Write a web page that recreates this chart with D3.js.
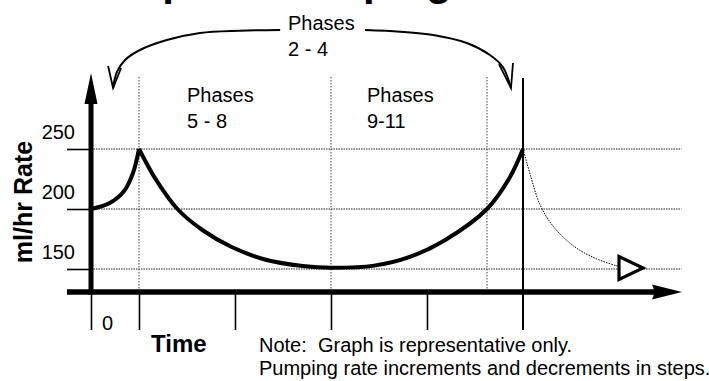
<!DOCTYPE html>
<html><head><meta charset="utf-8">
<script src="https://cdn.jsdelivr.net/npm/d3@7"></script>
<style>body{margin:0;background:#fff}svg{display:block}</style>
</head><body>
<svg id="c" width="709" height="381"></svg>
<script>
// ---- data ----
const titleText = "Adaptive Pumping";
const yLabel = "ml/hr Rate";
const xLabel = "Time";
const yTickValues = [150, 200, 250];
const yTickLabels = ["150", "200", "250"];
const xTickValues = [0, 1, 3, 5, 7];
const xZeroLabel = "0";
const phaseBoundaries = [1, 5, 8.25];
const cycleEnd = 9;
// rising segment (phase 1)
const riseT = [0, 0.39, 0.69, 0.875, 1];
const riseV = [200, 205, 215, 230, 250];
// main taper cycle
const mainT = [1, 1.36, 1.8, 2.32, 2.92, 3.66, 4.41, 5, 5.9, 6.64, 7.38, 8.25, 8.72, 9];
const mainV = [250, 224, 200, 182.5, 168.5, 157.5, 152.5, 151, 152.8, 160.1, 174.2, 200, 226, 250];
// dotted continuation
const tailT = [9, 9.17, 9.35, 9.62, 10.06, 10.5, 11.0];
const tailV = [250, 226, 204, 186, 169, 159, 152];
// bracket "Phases 2 - 4" (time, value)
const bracketLeftT = [3.94, 3.10, 2.27, 1.58, 1.02, 0.71, 0.54, 0.46];
const bracketLeftV = [349.2, 348.6, 346.7, 340.8, 332.5, 324.2, 314.2, 300.8];
const bracketRightT = [5.71, 6.44, 7.13, 7.83, 8.31, 8.58, 8.75];
const bracketRightV = [349.2, 347.8, 345, 338.3, 328.3, 318.3, 300.8];
const phaseLabels = [["Phases", "2 - 4"], ["Phases", "5 - 8"], ["Phases", "9-11"]];
const noteLines = ["Note:  Graph is representative only.", "Pumping rate increments and decrements in steps."];

// ---- scales ----
const x = d3.scaleLinear().domain([0, 1]).range([91, 139]);
const y = d3.scaleLinear().domain([150, 250]).range([269, 149]);
const baseV = 130.8;   // x axis level
const topV = 310;      // top of phase dividers
const FONT = "'Liberation Sans', Arial, Helvetica, sans-serif";

const svg = d3.select("#c");
const pt = (T, V) => T.map((t, i) => [t, V[i]]);
const line = d3.line().x(d => x(d[0])).y(d => y(d[1])).curve(d3.curveCatmullRom.alpha(0.5));

// title (mostly above the frame)
svg.append("text").attr("x", 83).attr("y", -5)
  .attr("font-family", FONT).attr("font-weight", "bold").attr("font-size", 42)
  .text(titleText);

// horizontal dotted gridlines
svg.append("g").selectAll("line").data(yTickValues).join("line")
  .attr("x1", x(0)).attr("x2", x(12.3))
  .attr("y1", d => y(d)).attr("y2", d => y(d))
  .attr("stroke", "#222").attr("stroke-width", 1).attr("stroke-dasharray", "1.5,1");

// vertical dotted phase dividers
svg.append("g").selectAll("line").data(phaseBoundaries).join("line")
  .attr("x1", d => x(d)).attr("x2", d => x(d))
  .attr("y1", y(topV)).attr("y2", y(baseV))
  .attr("stroke", "#444").attr("stroke-width", 1).attr("stroke-dasharray", "1.5,1.5");

// solid end-of-cycle line
svg.append("line")
  .attr("x1", x(cycleEnd)).attr("x2", x(cycleEnd))
  .attr("y1", y(topV) + 1).attr("y2", y(baseV) + 38)
  .attr("stroke", "#000").attr("stroke-width", 2);

// y axis ticks + labels
const yAxis = d3.axisLeft(y).tickValues(yTickValues).tickSize(24)
  .tickFormat((d, i) => yTickLabels[i]);
const gy = svg.append("g").attr("transform", `translate(${x(0)},0)`).call(yAxis);
gy.select(".domain").remove();
gy.selectAll(".tick line").attr("stroke", "#000").attr("stroke-width", 1.6);
gy.selectAll(".tick text").attr("x", -16).attr("y", -11).attr("dy", null)
  .attr("font-family", FONT).attr("font-size", 20).attr("fill", "#000");

// x axis ticks
const xAxis = d3.axisBottom(x).tickValues(xTickValues).tickSize(38).tickFormat("");
const gx = svg.append("g").attr("transform", `translate(0,${y(baseV)})`).call(xAxis);
gx.select(".domain").remove();
gx.selectAll(".tick line").attr("stroke", "#000").attr("stroke-width", 1.6);

// thick axes lines
svg.append("line").attr("x1", x(-0.5)).attr("x2", x(11.95))
  .attr("y1", y(baseV)).attr("y2", y(baseV))
  .attr("stroke", "#000").attr("stroke-width", 5.5);
svg.append("line").attr("x1", x(0)).attr("x2", x(0))
  .attr("y1", y(baseV) + 2.5).attr("y2", 100)
  .attr("stroke", "#000").attr("stroke-width", 5);
// arrowheads
svg.append("path")
  .attr("d", `M${x(0)},73 L${x(0) + 6.5},104 L${x(0) - 6.5},104 Z`).attr("fill", "#000");
svg.append("path")
  .attr("d", `M682,${y(baseV)} L652,${y(baseV) - 7.5} Q656,${y(baseV)} 652,${y(baseV) + 7.5} Z`).attr("fill", "#000");

// curves
svg.append("path").datum(pt(riseT, riseV)).attr("d", line)
  .attr("fill", "none").attr("stroke", "#000").attr("stroke-width", 4).attr("stroke-linejoin", "round");
svg.append("path").datum(pt(mainT, mainV)).attr("d", line)
  .attr("fill", "none").attr("stroke", "#000").attr("stroke-width", 4).attr("stroke-linejoin", "round");
svg.append("path").datum(pt(tailT, tailV)).attr("d", line)
  .attr("fill", "none").attr("stroke", "#000").attr("stroke-width", 1).attr("stroke-dasharray", "1.5,1.2");

// open triangle arrow at tail end
const tipX = x(11.5), tipY = y(150.8);
svg.append("path")
  .attr("d", `M${tipX},${tipY} L${tipX - 24},${tipY - 11.5} L${tipX - 24},${tipY + 11.5} Z`)
  .attr("fill", "#fff").attr("stroke", "#000").attr("stroke-width", 3.2).attr("stroke-linejoin", "miter");

// bracket
const bline = d3.line().x(d => x(d[0])).y(d => y(d[1])).curve(d3.curveCatmullRom);
svg.append("path").datum(pt(bracketLeftT, bracketLeftV)).attr("d", bline)
  .attr("fill", "none").attr("stroke", "#000").attr("stroke-width", 2);
svg.append("path").datum(pt(bracketRightT, bracketRightV)).attr("d", bline)
  .attr("fill", "none").attr("stroke", "#000").attr("stroke-width", 2);
const lt = [x(bracketLeftT[7]), y(bracketLeftV[7])];
const rt = [x(bracketRightT[6]), y(bracketRightV[6])];
svg.append("path").attr("d", `M${lt[0] - 5},${lt[1] - 22} L${lt[0]},${lt[1]} L${lt[0] + 8},${lt[1] - 20}`)
  .attr("fill", "none").attr("stroke", "#000").attr("stroke-width", 1.8);
svg.append("path").attr("d", `M${rt[0] - 12},${rt[1] - 24} L${rt[0]},${rt[1]} L${rt[0] + 2},${rt[1] - 25}`)
  .attr("fill", "none").attr("stroke", "#000").attr("stroke-width", 1.8);

// phase labels
const phasePos = [[288, 30], [187, 102], [367, 102]];
phaseLabels.forEach((lbl, i) => {
  const t = svg.append("text").attr("font-family", FONT).attr("font-size", 20).attr("fill", "#000");
  t.append("tspan").attr("x", phasePos[i][0]).attr("y", phasePos[i][1]).text(lbl[0]);
  t.append("tspan").attr("x", phasePos[i][0]).attr("y", phasePos[i][1] + 26).text(lbl[1]);
});

// axis labels
svg.append("text").attr("x", 102).attr("y", 330)
  .attr("font-family", FONT).attr("font-size", 20).text(xZeroLabel);
svg.append("text").attr("x", 151).attr("y", 352)
  .attr("font-family", FONT).attr("font-weight", "bold").attr("font-size", 24).text(xLabel);
svg.append("text").attr("transform", "translate(32,202) rotate(-90)")
  .attr("text-anchor", "middle")
  .attr("font-family", FONT).attr("font-weight", "bold").attr("font-size", 25).text(yLabel);

// note
noteLines.forEach((s, i) => {
  svg.append("text").attr("x", 259).attr("y", 352 + i * 23)
    .attr("font-family", FONT).attr("font-size", 20)
    .style("white-space", "pre").text(s);
});
</script>
</body></html>
